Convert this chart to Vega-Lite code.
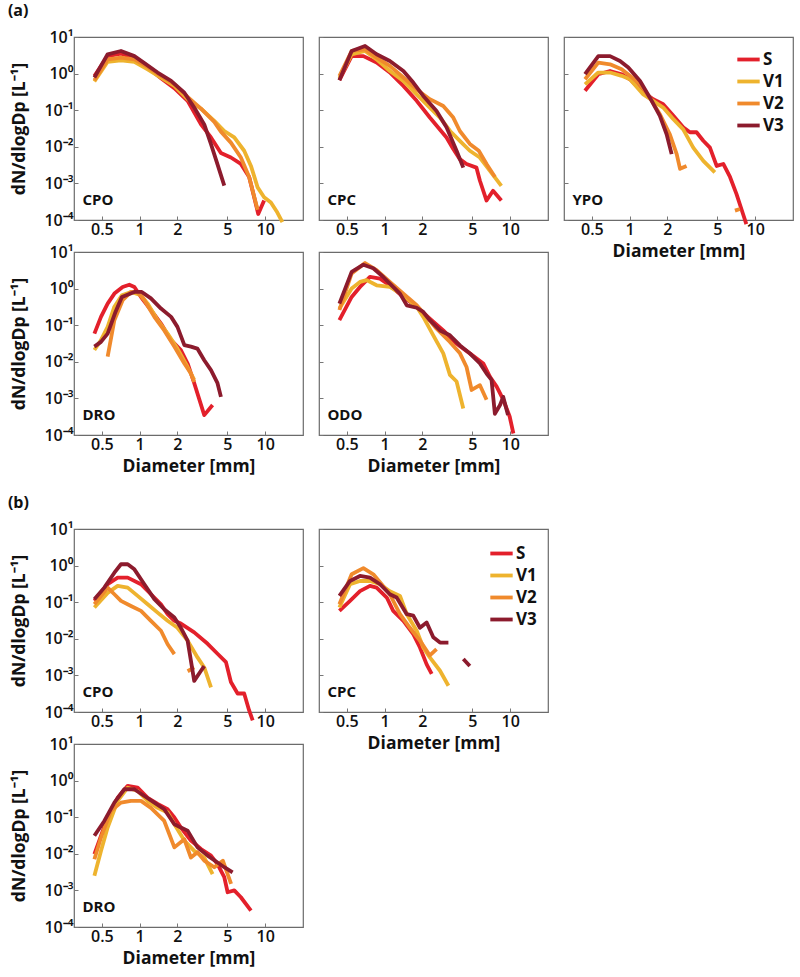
{
"$schema": "https://vega.github.io/schema/vega-lite/v6.json",
"padding": {"left": 7, "top": 2, "right": 2, "bottom": 2},
"config": {
 "font": "Open Sans",
 "view": {"stroke": "#6b6b6b", "strokeWidth": 1.2},
 "axis": {"labelFont": "Open Sans", "labelFontSize": 16, "labelFontWeight": 600, "labelColor": "#111", "titleFont": "Open Sans", "titleFontSize": 17.5, "titleFontWeight": "bold", "titleColor": "#111", "domain": false, "grid": false, "tickColor": "#777", "tickSize": -4, "tickWidth": 1},
 "axisX": {"labelPadding": 5, "titlePadding": 5},
 "axisY": {"labelPadding": 5, "titlePadding": 15},
 "title": {"font": "Open Sans", "fontSize": 16, "fontWeight": "bold", "color": "#111", "anchor": "start", "frame": "bounds", "offset": 10, "dx": -3},
 "line": {"strokeWidth": 3.8, "clip": true, "strokeJoin": "round"},
 "text": {"font": "Open Sans", "fontSize": 15, "fontWeight": "bold", "color": "#111", "align": "left", "baseline": "middle"}
},
"datasets": {"all": [
{"p":"aCPO","s":"S","g":1,"d":0.436,"v":0.86},{"p":"aCPO","s":"S","g":1,"d":0.556,"v":3.0},{"p":"aCPO","s":"S","g":1,"d":0.71,"v":3.5},{"p":"aCPO","s":"S","g":1,"d":0.908,"v":2.73},{"p":"aCPO","s":"S","g":1,"d":1.158,"v":1.46},{"p":"aCPO","s":"S","g":1,"d":1.479,"v":0.75},{"p":"aCPO","s":"S","g":1,"d":1.888,"v":0.40},{"p":"aCPO","s":"S","g":1,"d":2.41,"v":0.18},{"p":"aCPO","s":"S","g":1,"d":3.08,"v":0.041},{"p":"aCPO","s":"S","g":1,"d":3.70,"v":0.018},{"p":"aCPO","s":"S","g":1,"d":4.44,"v":0.0068},{"p":"aCPO","s":"S","g":1,"d":5.33,"v":0.0051},{"p":"aCPO","s":"S","g":1,"d":6.40,"v":0.0034},{"p":"aCPO","s":"S","g":1,"d":7.45,"v":0.0015},{"p":"aCPO","s":"S","g":1,"d":8.17,"v":0.00042},{"p":"aCPO","s":"S","g":1,"d":8.8,"v":0.000146},{"p":"aCPO","s":"S","g":1,"d":9.8,"v":0.00034},
{"p":"aCPO","s":"V1","g":1,"d":0.436,"v":0.61},{"p":"aCPO","s":"V1","g":1,"d":0.556,"v":2.1},{"p":"aCPO","s":"V1","g":1,"d":0.71,"v":2.3},{"p":"aCPO","s":"V1","g":1,"d":0.908,"v":2.1},{"p":"aCPO","s":"V1","g":1,"d":1.158,"v":1.3},{"p":"aCPO","s":"V1","g":1,"d":1.479,"v":0.78},{"p":"aCPO","s":"V1","g":1,"d":1.888,"v":0.46},{"p":"aCPO","s":"V1","g":1,"d":2.41,"v":0.20},{"p":"aCPO","s":"V1","g":1,"d":3.08,"v":0.11},{"p":"aCPO","s":"V1","g":1,"d":3.93,"v":0.051},{"p":"aCPO","s":"V1","g":1,"d":4.72,"v":0.027},{"p":"aCPO","s":"V1","g":1,"d":5.67,"v":0.018},{"p":"aCPO","s":"V1","g":1,"d":6.8,"v":0.0078},{"p":"aCPO","s":"V1","g":1,"d":7.7,"v":0.003},{"p":"aCPO","s":"V1","g":1,"d":8.7,"v":0.00078},{"p":"aCPO","s":"V1","g":1,"d":9.8,"v":0.00042},{"p":"aCPO","s":"V1","g":1,"d":11.1,"v":0.0003},{"p":"aCPO","s":"V1","g":1,"d":12.5,"v":0.00016},{"p":"aCPO","s":"V1","g":1,"d":13.7,"v":0.000088},
{"p":"aCPO","s":"V2","g":1,"d":0.436,"v":0.66},{"p":"aCPO","s":"V2","g":1,"d":0.556,"v":2.45},{"p":"aCPO","s":"V2","g":1,"d":0.71,"v":2.73},{"p":"aCPO","s":"V2","g":1,"d":0.908,"v":2.45},{"p":"aCPO","s":"V2","g":1,"d":1.158,"v":1.52},{"p":"aCPO","s":"V2","g":1,"d":1.479,"v":0.86},{"p":"aCPO","s":"V2","g":1,"d":1.888,"v":0.51},{"p":"aCPO","s":"V2","g":1,"d":2.41,"v":0.23},{"p":"aCPO","s":"V2","g":1,"d":3.08,"v":0.11},{"p":"aCPO","s":"V2","g":1,"d":3.93,"v":0.048},{"p":"aCPO","s":"V2","g":1,"d":4.44,"v":0.026},{"p":"aCPO","s":"V2","g":1,"d":5.33,"v":0.013},{"p":"aCPO","s":"V2","g":1,"d":6.40,"v":0.0051},{"p":"aCPO","s":"V2","g":1,"d":7.45,"v":0.0015},{"p":"aCPO","s":"V2","g":1,"d":8.7,"v":0.00019},
{"p":"aCPO","s":"V3","g":1,"d":0.436,"v":0.78},{"p":"aCPO","s":"V3","g":1,"d":0.556,"v":3.37},{"p":"aCPO","s":"V3","g":1,"d":0.71,"v":4.15},{"p":"aCPO","s":"V3","g":1,"d":0.908,"v":3.0},{"p":"aCPO","s":"V3","g":1,"d":1.09,"v":1.94},{"p":"aCPO","s":"V3","g":1,"d":1.39,"v":1.07},{"p":"aCPO","s":"V3","g":1,"d":1.78,"v":0.63},{"p":"aCPO","s":"V3","g":1,"d":2.27,"v":0.30},{"p":"aCPO","s":"V3","g":1,"d":2.72,"v":0.118},{"p":"aCPO","s":"V3","g":1,"d":3.27,"v":0.041},{"p":"aCPO","s":"V3","g":1,"d":3.70,"v":0.0118},{"p":"aCPO","s":"V3","g":1,"d":4.17,"v":0.0033},{"p":"aCPO","s":"V3","g":1,"d":4.72,"v":0.00087},

{"p":"aCPC","s":"S","g":1,"d":0.436,"v":0.66},{"p":"aCPC","s":"S","g":1,"d":0.546,"v":3.0},{"p":"aCPC","s":"S","g":1,"d":0.677,"v":3.0},{"p":"aCPC","s":"S","g":1,"d":0.863,"v":2.0},{"p":"aCPC","s":"S","g":1,"d":1.10,"v":1.07},{"p":"aCPC","s":"S","g":1,"d":1.41,"v":0.46},{"p":"aCPC","s":"S","g":1,"d":1.80,"v":0.18},{"p":"aCPC","s":"S","g":1,"d":2.29,"v":0.063},{"p":"aCPC","s":"S","g":1,"d":3.11,"v":0.018},{"p":"aCPC","s":"S","g":1,"d":3.52,"v":0.0087},{"p":"aCPC","s":"S","g":1,"d":3.97,"v":0.0046},{"p":"aCPC","s":"S","g":1,"d":4.49,"v":0.0034},{"p":"aCPC","s":"S","g":1,"d":5.38,"v":0.0027},{"p":"aCPC","s":"S","g":1,"d":5.73,"v":0.0012},{"p":"aCPC","s":"S","g":1,"d":6.48,"v":0.00034},{"p":"aCPC","s":"S","g":1,"d":7.3,"v":0.00063},{"p":"aCPC","s":"S","g":1,"d":8.5,"v":0.00034},
{"p":"aCPC","s":"V1","g":1,"d":0.436,"v":0.75},{"p":"aCPC","s":"V1","g":1,"d":0.546,"v":3.37},{"p":"aCPC","s":"V1","g":1,"d":0.698,"v":4.15},{"p":"aCPC","s":"V1","g":1,"d":0.863,"v":2.45},{"p":"aCPC","s":"V1","g":1,"d":1.10,"v":1.18},{"p":"aCPC","s":"V1","g":1,"d":1.41,"v":0.63},{"p":"aCPC","s":"V1","g":1,"d":1.80,"v":0.27},{"p":"aCPC","s":"V1","g":1,"d":2.29,"v":0.118},{"p":"aCPC","s":"V1","g":1,"d":2.76,"v":0.063},{"p":"aCPC","s":"V1","g":1,"d":3.32,"v":0.027},{"p":"aCPC","s":"V1","g":1,"d":3.97,"v":0.0146},{"p":"aCPC","s":"V1","g":1,"d":4.77,"v":0.0078},{"p":"aCPC","s":"V1","g":1,"d":5.73,"v":0.0051},{"p":"aCPC","s":"V1","g":1,"d":6.9,"v":0.0022},{"p":"aCPC","s":"V1","g":1,"d":8.5,"v":0.00086},
{"p":"aCPC","s":"V2","g":1,"d":0.436,"v":0.86},{"p":"aCPC","s":"V2","g":1,"d":0.546,"v":4.15},{"p":"aCPC","s":"V2","g":1,"d":0.698,"v":4.6},{"p":"aCPC","s":"V2","g":1,"d":0.863,"v":2.73},{"p":"aCPC","s":"V2","g":1,"d":1.10,"v":1.62},{"p":"aCPC","s":"V2","g":1,"d":1.41,"v":0.78},{"p":"aCPC","s":"V2","g":1,"d":1.80,"v":0.37},{"p":"aCPC","s":"V2","g":1,"d":2.29,"v":0.2},{"p":"aCPC","s":"V2","g":1,"d":2.93,"v":0.13},{"p":"aCPC","s":"V2","g":1,"d":3.52,"v":0.063},{"p":"aCPC","s":"V2","g":1,"d":3.97,"v":0.027},{"p":"aCPC","s":"V2","g":1,"d":4.77,"v":0.012},{"p":"aCPC","s":"V2","g":1,"d":5.62,"v":0.0078},{"p":"aCPC","s":"V2","g":1,"d":6.48,"v":0.0034},{"p":"aCPC","s":"V2","g":1,"d":7.56,"v":0.0015},
{"p":"aCPC","s":"V3","g":1,"d":0.436,"v":0.66},{"p":"aCPC","s":"V3","g":1,"d":0.546,"v":4.15},{"p":"aCPC","s":"V3","g":1,"d":0.698,"v":5.7},{"p":"aCPC","s":"V3","g":1,"d":0.863,"v":3.37},{"p":"aCPC","s":"V3","g":1,"d":1.10,"v":2.21},{"p":"aCPC","s":"V3","g":1,"d":1.41,"v":1.18},{"p":"aCPC","s":"V3","g":1,"d":1.69,"v":0.57},{"p":"aCPC","s":"V3","g":1,"d":2.03,"v":0.245},{"p":"aCPC","s":"V3","g":1,"d":2.59,"v":0.095},{"p":"aCPC","s":"V3","g":1,"d":3.11,"v":0.034},{"p":"aCPC","s":"V3","g":1,"d":3.74,"v":0.0078},{"p":"aCPC","s":"V3","g":1,"d":4.23,"v":0.0027},

{"p":"aYPO","s":"S","g":1,"d":0.441,"v":0.34},{"p":"aYPO","s":"S","g":1,"d":0.563,"v":0.96},{"p":"aYPO","s":"S","g":1,"d":0.698,"v":1.18},{"p":"aYPO","s":"S","g":1,"d":0.863,"v":0.96},{"p":"aYPO","s":"S","g":1,"d":1.006,"v":0.7},{"p":"aYPO","s":"S","g":1,"d":1.21,"v":0.37},{"p":"aYPO","s":"S","g":1,"d":1.54,"v":0.2},{"p":"aYPO","s":"S","g":1,"d":1.85,"v":0.145},{"p":"aYPO","s":"S","g":1,"d":2.23,"v":0.07},{"p":"aYPO","s":"S","g":1,"d":2.67,"v":0.034},{"p":"aYPO","s":"S","g":1,"d":3.02,"v":0.025},{"p":"aYPO","s":"S","g":1,"d":3.41,"v":0.025},{"p":"aYPO","s":"S","g":1,"d":3.86,"v":0.0146},{"p":"aYPO","s":"S","g":1,"d":4.36,"v":0.0095},{"p":"aYPO","s":"S","g":1,"d":4.93,"v":0.003},{"p":"aYPO","s":"S","g":1,"d":5.57,"v":0.0034},{"p":"aYPO","s":"S","g":1,"d":6.3,"v":0.0015},{"p":"aYPO","s":"S","g":1,"d":7.1,"v":0.00051},{"p":"aYPO","s":"S","g":1,"d":8.0,"v":0.000146},{"p":"aYPO","s":"S","g":1,"d":8.5,"v":0.000077},
{"p":"aYPO","s":"V1","g":1,"d":0.441,"v":0.51},{"p":"aYPO","s":"V1","g":1,"d":0.563,"v":1.07},{"p":"aYPO","s":"V1","g":1,"d":0.698,"v":1.07},{"p":"aYPO","s":"V1","g":1,"d":0.863,"v":0.87},{"p":"aYPO","s":"V1","g":1,"d":1.006,"v":0.7},{"p":"aYPO","s":"V1","g":1,"d":1.285,"v":0.27},{"p":"aYPO","s":"V1","g":1,"d":1.54,"v":0.18},{"p":"aYPO","s":"V1","g":1,"d":1.85,"v":0.118},{"p":"aYPO","s":"V1","g":1,"d":2.23,"v":0.057},{"p":"aYPO","s":"V1","g":1,"d":2.67,"v":0.03},{"p":"aYPO","s":"V1","g":1,"d":3.21,"v":0.0095},{"p":"aYPO","s":"V1","g":1,"d":3.86,"v":0.0041},{"p":"aYPO","s":"V1","g":1,"d":4.77,"v":0.002},
{"p":"aYPO","s":"V2","g":1,"d":0.441,"v":0.7},{"p":"aYPO","s":"V2","g":1,"d":0.563,"v":2.0},{"p":"aYPO","s":"V2","g":1,"d":0.698,"v":1.8},{"p":"aYPO","s":"V2","g":1,"d":0.863,"v":1.31},{"p":"aYPO","s":"V2","g":1,"d":1.006,"v":0.87},{"p":"aYPO","s":"V2","g":1,"d":1.21,"v":0.51},{"p":"aYPO","s":"V2","g":1,"d":1.45,"v":0.22},{"p":"aYPO","s":"V2","g":1,"d":1.74,"v":0.078},{"p":"aYPO","s":"V2","g":1,"d":2.09,"v":0.022},{"p":"aYPO","s":"V2","g":1,"d":2.37,"v":0.0063},{"p":"aYPO","s":"V2","g":1,"d":2.52,"v":0.0025},{"p":"aYPO","s":"V2","g":1,"d":2.84,"v":0.003},
{"p":"aYPO","s":"V2","g":2,"d":6.9,"v":0.00018},{"p":"aYPO","s":"V2","g":2,"d":7.56,"v":0.0002},
{"p":"aYPO","s":"V3","g":1,"d":0.441,"v":0.96},{"p":"aYPO","s":"V3","g":1,"d":0.563,"v":3.0},{"p":"aYPO","s":"V3","g":1,"d":0.698,"v":3.0},{"p":"aYPO","s":"V3","g":1,"d":0.838,"v":2.21},{"p":"aYPO","s":"V3","g":1,"d":0.976,"v":1.46},{"p":"aYPO","s":"V3","g":1,"d":1.21,"v":0.63},{"p":"aYPO","s":"V3","g":1,"d":1.45,"v":0.22},{"p":"aYPO","s":"V3","g":1,"d":1.74,"v":0.07},{"p":"aYPO","s":"V3","g":1,"d":1.97,"v":0.022},{"p":"aYPO","s":"V3","g":1,"d":2.16,"v":0.0063},

{"p":"aDRO","s":"S","g":1,"d":0.436,"v":0.059},{"p":"aDRO","s":"S","g":1,"d":0.492,"v":0.169},{"p":"aDRO","s":"S","g":1,"d":0.556,"v":0.39},{"p":"aDRO","s":"S","g":1,"d":0.629,"v":0.73},{"p":"aDRO","s":"S","g":1,"d":0.732,"v":1.11},{"p":"aDRO","s":"S","g":1,"d":0.827,"v":1.28},{"p":"aDRO","s":"S","g":1,"d":0.908,"v":1.11},{"p":"aDRO","s":"S","g":1,"d":1.025,"v":0.59},{"p":"aDRO","s":"S","g":1,"d":1.23,"v":0.26},{"p":"aDRO","s":"S","g":1,"d":1.479,"v":0.111},{"p":"aDRO","s":"S","g":1,"d":1.78,"v":0.039},{"p":"aDRO","s":"S","g":1,"d":2.13,"v":0.021},{"p":"aDRO","s":"S","g":1,"d":2.41,"v":0.009},{"p":"aDRO","s":"S","g":1,"d":2.72,"v":0.0026},{"p":"aDRO","s":"S","g":1,"d":3.27,"v":0.00035},{"p":"aDRO","s":"S","g":1,"d":3.81,"v":0.00066},
{"p":"aDRO","s":"V1","g":1,"d":0.436,"v":0.021},{"p":"aDRO","s":"V1","g":1,"d":0.492,"v":0.039},{"p":"aDRO","s":"V1","g":1,"d":0.556,"v":0.09},{"p":"aDRO","s":"V1","g":1,"d":0.629,"v":0.32},{"p":"aDRO","s":"V1","g":1,"d":0.722,"v":0.66},{"p":"aDRO","s":"V1","g":1,"d":0.855,"v":0.81},{"p":"aDRO","s":"V1","g":1,"d":1.025,"v":0.66},{"p":"aDRO","s":"V1","g":1,"d":1.158,"v":0.39},{"p":"aDRO","s":"V1","g":1,"d":1.39,"v":0.137},{"p":"aDRO","s":"V1","g":1,"d":1.67,"v":0.059},{"p":"aDRO","s":"V1","g":1,"d":2.0,"v":0.023},{"p":"aDRO","s":"V1","g":1,"d":2.41,"v":0.0072},{"p":"aDRO","s":"V1","g":1,"d":2.72,"v":0.0032},
{"p":"aDRO","s":"V2","g":1,"d":0.556,"v":0.0138},{"p":"aDRO","s":"V2","g":1,"d":0.629,"v":0.137},{"p":"aDRO","s":"V2","g":1,"d":0.732,"v":0.48},{"p":"aDRO","s":"V2","g":1,"d":0.853,"v":0.81},{"p":"aDRO","s":"V2","g":1,"d":0.964,"v":0.81},{"p":"aDRO","s":"V2","g":1,"d":1.09,"v":0.48},{"p":"aDRO","s":"V2","g":1,"d":1.309,"v":0.169},{"p":"aDRO","s":"V2","g":1,"d":1.57,"v":0.072},{"p":"aDRO","s":"V2","g":1,"d":1.888,"v":0.026},{"p":"aDRO","s":"V2","g":1,"d":2.27,"v":0.009},{"p":"aDRO","s":"V2","g":1,"d":2.56,"v":0.0048},{"p":"aDRO","s":"V2","g":1,"d":2.72,"v":0.0028},
{"p":"aDRO","s":"V3","g":1,"d":0.436,"v":0.026},{"p":"aDRO","s":"V3","g":1,"d":0.492,"v":0.035},{"p":"aDRO","s":"V3","g":1,"d":0.556,"v":0.059},{"p":"aDRO","s":"V3","g":1,"d":0.642,"v":0.23},{"p":"aDRO","s":"V3","g":1,"d":0.722,"v":0.59},{"p":"aDRO","s":"V3","g":1,"d":0.908,"v":0.81},{"p":"aDRO","s":"V3","g":1,"d":1.04,"v":0.81},{"p":"aDRO","s":"V3","g":1,"d":1.23,"v":0.54},{"p":"aDRO","s":"V3","g":1,"d":1.479,"v":0.285},{"p":"aDRO","s":"V3","g":1,"d":1.78,"v":0.169},{"p":"aDRO","s":"V3","g":1,"d":2.0,"v":0.09},{"p":"aDRO","s":"V3","g":1,"d":2.27,"v":0.0285},{"p":"aDRO","s":"V3","g":1,"d":2.56,"v":0.026},{"p":"aDRO","s":"V3","g":1,"d":2.88,"v":0.023},{"p":"aDRO","s":"V3","g":1,"d":3.27,"v":0.011},{"p":"aDRO","s":"V3","g":1,"d":3.70,"v":0.0059},{"p":"aDRO","s":"V3","g":1,"d":4.17,"v":0.0026},{"p":"aDRO","s":"V3","g":1,"d":4.44,"v":0.0011},

{"p":"aODO","s":"S","g":1,"d":0.436,"v":0.137},{"p":"aODO","s":"S","g":1,"d":0.546,"v":0.59},{"p":"aODO","s":"S","g":1,"d":0.636,"v":1.11},{"p":"aODO","s":"S","g":1,"d":0.764,"v":2.08},{"p":"aODO","s":"S","g":1,"d":0.918,"v":1.87},{"p":"aODO","s":"S","g":1,"d":1.10,"v":1.23},{"p":"aODO","s":"S","g":1,"d":1.41,"v":0.59},{"p":"aODO","s":"S","g":1,"d":1.80,"v":0.32},{"p":"aODO","s":"S","g":1,"d":2.29,"v":0.152},{"p":"aODO","s":"S","g":1,"d":2.93,"v":0.072},{"p":"aODO","s":"S","g":1,"d":3.74,"v":0.031},{"p":"aODO","s":"S","g":1,"d":4.77,"v":0.017},{"p":"aODO","s":"S","g":1,"d":6.1,"v":0.009},{"p":"aODO","s":"S","g":1,"d":6.9,"v":0.0039},{"p":"aODO","s":"S","g":1,"d":7.8,"v":0.0021},{"p":"aODO","s":"S","g":1,"d":8.8,"v":0.00092},{"p":"aODO","s":"S","g":1,"d":9.9,"v":0.00032},{"p":"aODO","s":"S","g":1,"d":10.6,"v":0.00011},
{"p":"aODO","s":"V1","g":1,"d":0.436,"v":0.285},{"p":"aODO","s":"V1","g":1,"d":0.546,"v":1.0},{"p":"aODO","s":"V1","g":1,"d":0.636,"v":1.52},{"p":"aODO","s":"V1","g":1,"d":0.719,"v":1.7},{"p":"aODO","s":"V1","g":1,"d":0.863,"v":1.23},{"p":"aODO","s":"V1","g":1,"d":1.10,"v":1.11},{"p":"aODO","s":"V1","g":1,"d":1.41,"v":0.66},{"p":"aODO","s":"V1","g":1,"d":1.80,"v":0.32},{"p":"aODO","s":"V1","g":1,"d":2.03,"v":0.169},{"p":"aODO","s":"V1","g":1,"d":2.44,"v":0.053},{"p":"aODO","s":"V1","g":1,"d":2.93,"v":0.017},{"p":"aODO","s":"V1","g":1,"d":3.31,"v":0.0044},{"p":"aODO","s":"V1","g":1,"d":3.74,"v":0.0029},{"p":"aODO","s":"V1","g":1,"d":4.23,"v":0.00053},
{"p":"aODO","s":"V2","g":1,"d":0.436,"v":0.26},{"p":"aODO","s":"V2","g":1,"d":0.546,"v":2.6},{"p":"aODO","s":"V2","g":1,"d":0.698,"v":5.0},{"p":"aODO","s":"V2","g":1,"d":0.863,"v":3.2},{"p":"aODO","s":"V2","g":1,"d":1.10,"v":1.52},{"p":"aODO","s":"V2","g":1,"d":1.41,"v":0.73},{"p":"aODO","s":"V2","g":1,"d":1.80,"v":0.35},{"p":"aODO","s":"V2","g":1,"d":2.16,"v":0.169},{"p":"aODO","s":"V2","g":1,"d":2.59,"v":0.08},{"p":"aODO","s":"V2","g":1,"d":3.31,"v":0.035},{"p":"aODO","s":"V2","g":1,"d":3.98,"v":0.017},{"p":"aODO","s":"V2","g":1,"d":4.49,"v":0.0072},{"p":"aODO","s":"V2","g":1,"d":4.93,"v":0.0017},{"p":"aODO","s":"V2","g":1,"d":5.74,"v":0.0023},{"p":"aODO","s":"V2","g":1,"d":6.48,"v":0.00092},
{"p":"aODO","s":"V3","g":1,"d":0.436,"v":0.39},{"p":"aODO","s":"V3","g":1,"d":0.546,"v":2.87},{"p":"aODO","s":"V3","g":1,"d":0.677,"v":4.5},{"p":"aODO","s":"V3","g":1,"d":0.812,"v":3.6},{"p":"aODO","s":"V3","g":1,"d":0.976,"v":2.08},{"p":"aODO","s":"V3","g":1,"d":1.10,"v":1.37},{"p":"aODO","s":"V3","g":1,"d":1.325,"v":0.73},{"p":"aODO","s":"V3","g":1,"d":1.50,"v":0.35},{"p":"aODO","s":"V3","g":1,"d":1.80,"v":0.30},{"p":"aODO","s":"V3","g":1,"d":2.03,"v":0.23},{"p":"aODO","s":"V3","g":1,"d":2.29,"v":0.137},{"p":"aODO","s":"V3","g":1,"d":2.76,"v":0.072},{"p":"aODO","s":"V3","g":1,"d":3.31,"v":0.053},{"p":"aODO","s":"V3","g":1,"d":3.98,"v":0.028},{"p":"aODO","s":"V3","g":1,"d":4.77,"v":0.017},{"p":"aODO","s":"V3","g":1,"d":5.74,"v":0.009},{"p":"aODO","s":"V3","g":1,"d":6.48,"v":0.0048},{"p":"aODO","s":"V3","g":1,"d":7.1,"v":0.0032},{"p":"aODO","s":"V3","g":1,"d":7.55,"v":0.00038},{"p":"aODO","s":"V3","g":1,"d":8.3,"v":0.00066},{"p":"aODO","s":"V3","g":1,"d":8.8,"v":0.0011},{"p":"aODO","s":"V3","g":1,"d":9.6,"v":0.00035},

{"p":"bCPO","s":"S","g":1,"d":0.436,"v":0.109},{"p":"bCPO","s":"S","g":1,"d":0.556,"v":0.31},{"p":"bCPO","s":"S","g":1,"d":0.668,"v":0.47},{"p":"bCPO","s":"S","g":1,"d":0.803,"v":0.47},{"p":"bCPO","s":"S","g":1,"d":1.025,"v":0.31},{"p":"bCPO","s":"S","g":1,"d":1.23,"v":0.165},{"p":"bCPO","s":"S","g":1,"d":1.479,"v":0.088},{"p":"bCPO","s":"S","g":1,"d":1.67,"v":0.047},{"p":"bCPO","s":"S","g":1,"d":1.89,"v":0.031},{"p":"bCPO","s":"S","g":1,"d":2.13,"v":0.026},{"p":"bCPO","s":"S","g":1,"d":2.72,"v":0.015},{"p":"bCPO","s":"S","g":1,"d":3.48,"v":0.0073},{"p":"bCPO","s":"S","g":1,"d":4.17,"v":0.0039},{"p":"bCPO","s":"S","g":1,"d":4.87,"v":0.0023},{"p":"bCPO","s":"S","g":1,"d":5.33,"v":0.00066},{"p":"bCPO","s":"S","g":1,"d":6.03,"v":0.00032},{"p":"bCPO","s":"S","g":1,"d":6.8,"v":0.00032},{"p":"bCPO","s":"S","g":1,"d":7.45,"v":0.00011},{"p":"bCPO","s":"S","g":1,"d":7.95,"v":0.000059},
{"p":"bCPO","s":"V1","g":1,"d":0.436,"v":0.072},{"p":"bCPO","s":"V1","g":1,"d":0.556,"v":0.18},{"p":"bCPO","s":"V1","g":1,"d":0.668,"v":0.28},{"p":"bCPO","s":"V1","g":1,"d":0.803,"v":0.25},{"p":"bCPO","s":"V1","g":1,"d":0.964,"v":0.149},{"p":"bCPO","s":"V1","g":1,"d":1.158,"v":0.088},{"p":"bCPO","s":"V1","g":1,"d":1.39,"v":0.052},{"p":"bCPO","s":"V1","g":1,"d":1.67,"v":0.031},{"p":"bCPO","s":"V1","g":1,"d":2.0,"v":0.02},{"p":"bCPO","s":"V1","g":1,"d":2.41,"v":0.0089},{"p":"bCPO","s":"V1","g":1,"d":2.89,"v":0.0031},{"p":"bCPO","s":"V1","g":1,"d":3.27,"v":0.00165},{"p":"bCPO","s":"V1","g":1,"d":3.70,"v":0.00047},
{"p":"bCPO","s":"V2","g":1,"d":0.436,"v":0.088},{"p":"bCPO","s":"V2","g":1,"d":0.556,"v":0.25},{"p":"bCPO","s":"V2","g":1,"d":0.629,"v":0.165},{"p":"bCPO","s":"V2","g":1,"d":0.71,"v":0.109},{"p":"bCPO","s":"V2","g":1,"d":0.853,"v":0.079},{"p":"bCPO","s":"V2","g":1,"d":1.025,"v":0.058},{"p":"bCPO","s":"V2","g":1,"d":1.23,"v":0.031},{"p":"bCPO","s":"V2","g":1,"d":1.479,"v":0.0166},{"p":"bCPO","s":"V2","g":1,"d":1.67,"v":0.0071},{"p":"bCPO","s":"V2","g":1,"d":1.89,"v":0.0038},
{"p":"bCPO","s":"V2","g":2,"d":2.41,"v":0.0013},{"p":"bCPO","s":"V2","g":2,"d":2.72,"v":0.00165},
{"p":"bCPO","s":"V3","g":1,"d":0.436,"v":0.121},{"p":"bCPO","s":"V3","g":1,"d":0.523,"v":0.25},{"p":"bCPO","s":"V3","g":1,"d":0.629,"v":0.64},{"p":"bCPO","s":"V3","g":1,"d":0.71,"v":1.09},{"p":"bCPO","s":"V3","g":1,"d":0.803,"v":1.09},{"p":"bCPO","s":"V3","g":1,"d":0.908,"v":0.79},{"p":"bCPO","s":"V3","g":1,"d":1.09,"v":0.31},{"p":"bCPO","s":"V3","g":1,"d":1.31,"v":0.121},{"p":"bCPO","s":"V3","g":1,"d":1.57,"v":0.064},{"p":"bCPO","s":"V3","g":1,"d":1.89,"v":0.038},{"p":"bCPO","s":"V3","g":1,"d":2.13,"v":0.02},{"p":"bCPO","s":"V3","g":1,"d":2.41,"v":0.0089},{"p":"bCPO","s":"V3","g":1,"d":2.72,"v":0.00071},{"p":"bCPO","s":"V3","g":1,"d":3.08,"v":0.00134},{"p":"bCPO","s":"V3","g":1,"d":3.27,"v":0.0018},

{"p":"bCPC","s":"S","g":1,"d":0.436,"v":0.058},{"p":"bCPC","s":"S","g":1,"d":0.53,"v":0.109},{"p":"bCPC","s":"S","g":1,"d":0.636,"v":0.2},{"p":"bCPC","s":"S","g":1,"d":0.764,"v":0.28},{"p":"bCPC","s":"S","g":1,"d":0.863,"v":0.25},{"p":"bCPC","s":"S","g":1,"d":1.04,"v":0.134},{"p":"bCPC","s":"S","g":1,"d":1.17,"v":0.058},{"p":"bCPC","s":"S","g":1,"d":1.41,"v":0.031},{"p":"bCPC","s":"S","g":1,"d":1.69,"v":0.0135},{"p":"bCPC","s":"S","g":1,"d":1.91,"v":0.0058},{"p":"bCPC","s":"S","g":1,"d":2.16,"v":0.002},{"p":"bCPC","s":"S","g":1,"d":2.37,"v":0.0011},
{"p":"bCPC","s":"V1","g":1,"d":0.436,"v":0.072},{"p":"bCPC","s":"V1","g":1,"d":0.53,"v":0.31},{"p":"bCPC","s":"V1","g":1,"d":0.636,"v":0.38},{"p":"bCPC","s":"V1","g":1,"d":0.764,"v":0.38},{"p":"bCPC","s":"V1","g":1,"d":0.918,"v":0.31},{"p":"bCPC","s":"V1","g":1,"d":1.10,"v":0.2},{"p":"bCPC","s":"V1","g":1,"d":1.325,"v":0.149},{"p":"bCPC","s":"V1","g":1,"d":1.50,"v":0.047},{"p":"bCPC","s":"V1","g":1,"d":1.80,"v":0.0166},{"p":"bCPC","s":"V1","g":1,"d":2.03,"v":0.0058},{"p":"bCPC","s":"V1","g":1,"d":2.29,"v":0.0031},{"p":"bCPC","s":"V1","g":1,"d":2.76,"v":0.00134},{"p":"bCPC","s":"V1","g":1,"d":3.22,"v":0.00052},
{"p":"bCPC","s":"V2","g":1,"d":0.436,"v":0.088},{"p":"bCPC","s":"V2","g":1,"d":0.546,"v":0.58},{"p":"bCPC","s":"V2","g":1,"d":0.677,"v":0.85},{"p":"bCPC","s":"V2","g":1,"d":0.812,"v":0.58},{"p":"bCPC","s":"V2","g":1,"d":0.946,"v":0.31},{"p":"bCPC","s":"V2","g":1,"d":1.10,"v":0.165},{"p":"bCPC","s":"V2","g":1,"d":1.325,"v":0.047},{"p":"bCPC","s":"V2","g":1,"d":1.59,"v":0.02},{"p":"bCPC","s":"V2","g":1,"d":1.91,"v":0.0089},{"p":"bCPC","s":"V2","g":1,"d":2.29,"v":0.0035},{"p":"bCPC","s":"V2","g":1,"d":2.59,"v":0.0052},
{"p":"bCPC","s":"V3","g":1,"d":0.436,"v":0.149},{"p":"bCPC","s":"V3","g":1,"d":0.53,"v":0.38},{"p":"bCPC","s":"V3","g":1,"d":0.636,"v":0.52},{"p":"bCPC","s":"V3","g":1,"d":0.764,"v":0.47},{"p":"bCPC","s":"V3","g":1,"d":0.918,"v":0.31},{"p":"bCPC","s":"V3","g":1,"d":1.10,"v":0.165},{"p":"bCPC","s":"V3","g":1,"d":1.246,"v":0.134},{"p":"bCPC","s":"V3","g":1,"d":1.50,"v":0.047},{"p":"bCPC","s":"V3","g":1,"d":1.69,"v":0.043},{"p":"bCPC","s":"V3","g":1,"d":1.91,"v":0.02},{"p":"bCPC","s":"V3","g":1,"d":2.16,"v":0.028},{"p":"bCPC","s":"V3","g":1,"d":2.44,"v":0.011},{"p":"bCPC","s":"V3","g":1,"d":2.76,"v":0.0079},{"p":"bCPC","s":"V3","g":1,"d":3.22,"v":0.0079},
{"p":"bCPC","s":"V3","g":2,"d":4.23,"v":0.0028},{"p":"bCPC","s":"V3","g":2,"d":4.77,"v":0.0018},

{"p":"bDRO","s":"S","g":1,"d":0.436,"v":0.0098},{"p":"bDRO","s":"S","g":1,"d":0.492,"v":0.031},{"p":"bDRO","s":"S","g":1,"d":0.556,"v":0.098},{"p":"bDRO","s":"S","g":1,"d":0.668,"v":0.34},{"p":"bDRO","s":"S","g":1,"d":0.803,"v":0.72},{"p":"bDRO","s":"S","g":1,"d":0.964,"v":0.64},{"p":"bDRO","s":"S","g":1,"d":1.158,"v":0.34},{"p":"bDRO","s":"S","g":1,"d":1.39,"v":0.23},{"p":"bDRO","s":"S","g":1,"d":1.67,"v":0.165},{"p":"bDRO","s":"S","g":1,"d":1.89,"v":0.098},{"p":"bDRO","s":"S","g":1,"d":2.13,"v":0.052},{"p":"bDRO","s":"S","g":1,"d":2.56,"v":0.023},{"p":"bDRO","s":"S","g":1,"d":3.08,"v":0.0135},{"p":"bDRO","s":"S","g":1,"d":3.70,"v":0.0089},{"p":"bDRO","s":"S","g":1,"d":4.17,"v":0.0052},{"p":"bDRO","s":"S","g":1,"d":4.72,"v":0.0023},{"p":"bDRO","s":"S","g":1,"d":5.02,"v":0.00089},{"p":"bDRO","s":"S","g":1,"d":5.67,"v":0.001},{"p":"bDRO","s":"S","g":1,"d":6.40,"v":0.00065},{"p":"bDRO","s":"S","g":1,"d":7.7,"v":0.00028},
{"p":"bDRO","s":"V1","g":1,"d":0.436,"v":0.0025},{"p":"bDRO","s":"V1","g":1,"d":0.492,"v":0.012},{"p":"bDRO","s":"V1","g":1,"d":0.556,"v":0.052},{"p":"bDRO","s":"V1","g":1,"d":0.668,"v":0.28},{"p":"bDRO","s":"V1","g":1,"d":0.803,"v":0.64},{"p":"bDRO","s":"V1","g":1,"d":0.964,"v":0.52},{"p":"bDRO","s":"V1","g":1,"d":1.158,"v":0.28},{"p":"bDRO","s":"V1","g":1,"d":1.39,"v":0.18},{"p":"bDRO","s":"V1","g":1,"d":1.67,"v":0.134},{"p":"bDRO","s":"V1","g":1,"d":1.89,"v":0.064},{"p":"bDRO","s":"V1","g":1,"d":2.27,"v":0.023},{"p":"bDRO","s":"V1","g":1,"d":2.72,"v":0.012},{"p":"bDRO","s":"V1","g":1,"d":3.27,"v":0.0079},{"p":"bDRO","s":"V1","g":1,"d":3.81,"v":0.0028},
{"p":"bDRO","s":"V2","g":1,"d":0.436,"v":0.0071},{"p":"bDRO","s":"V2","g":1,"d":0.492,"v":0.028},{"p":"bDRO","s":"V2","g":1,"d":0.591,"v":0.149},{"p":"bDRO","s":"V2","g":1,"d":0.71,"v":0.25},{"p":"bDRO","s":"V2","g":1,"d":0.853,"v":0.28},{"p":"bDRO","s":"V2","g":1,"d":1.025,"v":0.28},{"p":"bDRO","s":"V2","g":1,"d":1.23,"v":0.18},{"p":"bDRO","s":"V2","g":1,"d":1.57,"v":0.079},{"p":"bDRO","s":"V2","g":1,"d":1.89,"v":0.015},{"p":"bDRO","s":"V2","g":1,"d":2.27,"v":0.025},{"p":"bDRO","s":"V2","g":1,"d":2.56,"v":0.0079},{"p":"bDRO","s":"V2","g":1,"d":2.89,"v":0.011},{"p":"bDRO","s":"V2","g":1,"d":3.27,"v":0.0065},{"p":"bDRO","s":"V2","g":1,"d":3.93,"v":0.0043},{"p":"bDRO","s":"V2","g":1,"d":4.6,"v":0.0065},{"p":"bDRO","s":"V2","g":1,"d":5.02,"v":0.0028},{"p":"bDRO","s":"V2","g":1,"d":5.35,"v":0.0015},
{"p":"bDRO","s":"V3","g":1,"d":0.436,"v":0.031},{"p":"bDRO","s":"V3","g":1,"d":0.523,"v":0.079},{"p":"bDRO","s":"V3","g":1,"d":0.629,"v":0.25},{"p":"bDRO","s":"V3","g":1,"d":0.755,"v":0.58},{"p":"bDRO","s":"V3","g":1,"d":0.908,"v":0.58},{"p":"bDRO","s":"V3","g":1,"d":1.09,"v":0.38},{"p":"bDRO","s":"V3","g":1,"d":1.31,"v":0.25},{"p":"bDRO","s":"V3","g":1,"d":1.57,"v":0.165},{"p":"bDRO","s":"V3","g":1,"d":1.89,"v":0.064},{"p":"bDRO","s":"V3","g":1,"d":2.13,"v":0.052},{"p":"bDRO","s":"V3","g":1,"d":2.41,"v":0.043},{"p":"bDRO","s":"V3","g":1,"d":2.89,"v":0.015},{"p":"bDRO","s":"V3","g":1,"d":3.48,"v":0.0089},{"p":"bDRO","s":"V3","g":1,"d":4.17,"v":0.0058},{"p":"bDRO","s":"V3","g":1,"d":4.72,"v":0.0043},{"p":"bDRO","s":"V3","g":1,"d":5.5,"v":0.0031}
]},
"columns": 3,
"align": "each",
"bounds": "flush",
"spacing": {"row": 32, "column": 16},
"resolve": {"scale": {"color": "independent", "x": "independent", "y": "independent"}, "legend": {"color": "independent"}},
"concat": [
 {"width": 229, "height": 183, "title": {"text": "(a)"},
  "layer": [
   {"data": {"name": "all"}, "transform": [{"filter": "datum.p === 'aCPO'"}], "mark": "line",
    "encoding": {
     "x": {"field": "d", "type": "quantitative", "scale": {"type": "log", "domain": [0.3, 20], "nice": false}, "axis": {"values": [0.5,1,2,5,10], "format": "~g", "title": null}},
     "y": {"field": "v", "type": "quantitative", "scale": {"type": "log", "domain": [0.0001, 10], "nice": false}, "axis": {"values": [0.0001,0.001,0.01,0.1,1,10], "labelExpr": "datum.value > 5 ? '10¹' : datum.value > 0.5 ? '10⁰' : datum.value > 0.05 ? '10⁻¹' : datum.value > 0.005 ? '10⁻²' : datum.value > 0.0005 ? '10⁻³' : '10⁻⁴'", "title": "dN/dlogDp [L⁻¹]"}},
     "color": {"field": "s", "type": "nominal", "scale": {"domain": ["S","V1","V2","V3"], "range": ["#e3202b","#eeb32e","#f08a2c","#8c1b2d"]}, "legend": null},
     "detail": {"field": "g"}}},
   {"data": {"values": [{"n": "CPO"}]}, "mark": "text", "encoding": {"x": {"datum": 0.35}, "y": {"datum": 0.00035}, "text": {"field": "n"}}}
  ]},
 {"width": 229, "height": 183,
  "layer": [
   {"data": {"name": "all"}, "transform": [{"filter": "datum.p === 'aCPC'"}], "mark": "line",
    "encoding": {
     "x": {"field": "d", "type": "quantitative", "scale": {"type": "log", "domain": [0.3, 20], "nice": false}, "axis": {"values": [0.5,1,2,5,10], "format": "~g", "title": null}},
     "y": {"field": "v", "type": "quantitative", "scale": {"type": "log", "domain": [0.0001, 10], "nice": false}, "axis": {"values": [0.0001,0.001,0.01,0.1,1,10], "labels": false, "title": null}},
     "color": {"field": "s", "type": "nominal", "scale": {"domain": ["S","V1","V2","V3"], "range": ["#e3202b","#eeb32e","#f08a2c","#8c1b2d"]}, "legend": null},
     "detail": {"field": "g"}}},
   {"data": {"values": [{"n": "CPC"}]}, "mark": "text", "encoding": {"x": {"datum": 0.35}, "y": {"datum": 0.00035}, "text": {"field": "n"}}}
  ]},
 {"width": 229, "height": 183,
  "layer": [
   {"data": {"name": "all"}, "transform": [{"filter": "datum.p === 'aYPO'"}], "mark": "line",
    "encoding": {
     "x": {"field": "d", "type": "quantitative", "scale": {"type": "log", "domain": [0.3, 20], "nice": false}, "axis": {"values": [0.5,1,2,5,10], "format": "~g", "title": "Diameter [mm]"}},
     "y": {"field": "v", "type": "quantitative", "scale": {"type": "log", "domain": [0.0001, 10], "nice": false}, "axis": {"values": [0.0001,0.001,0.01,0.1,1,10], "labels": false, "title": null}},
     "color": {"field": "s", "type": "nominal", "scale": {"domain": ["S","V1","V2","V3"], "range": ["#e3202b","#eeb32e","#f08a2c","#8c1b2d"]},
       "legend": {"orient": "top-right", "offset": 9, "title": null, "symbolType": "stroke", "symbolStrokeWidth": 4.5, "symbolSize": 500, "labelFont": "Open Sans", "labelFontSize": 17, "labelFontWeight": "bold", "labelColor": "#111", "rowPadding": -1, "labelOffset": 1, "padding": 0}},
     "detail": {"field": "g"}}},
   {"data": {"values": [{"n": "YPO"}]}, "mark": "text", "encoding": {"x": {"datum": 0.35}, "y": {"datum": 0.00035}, "text": {"field": "n"}}}
  ]},
 {"width": 229, "height": 183,
  "layer": [
   {"data": {"name": "all"}, "transform": [{"filter": "datum.p === 'aDRO'"}], "mark": "line",
    "encoding": {
     "x": {"field": "d", "type": "quantitative", "scale": {"type": "log", "domain": [0.3, 20], "nice": false}, "axis": {"values": [0.5,1,2,5,10], "format": "~g", "title": "Diameter [mm]"}},
     "y": {"field": "v", "type": "quantitative", "scale": {"type": "log", "domain": [0.0001, 10], "nice": false}, "axis": {"values": [0.0001,0.001,0.01,0.1,1,10], "labelExpr": "datum.value > 5 ? '10¹' : datum.value > 0.5 ? '10⁰' : datum.value > 0.05 ? '10⁻¹' : datum.value > 0.005 ? '10⁻²' : datum.value > 0.0005 ? '10⁻³' : '10⁻⁴'", "title": "dN/dlogDp [L⁻¹]"}},
     "color": {"field": "s", "type": "nominal", "scale": {"domain": ["S","V1","V2","V3"], "range": ["#e3202b","#eeb32e","#f08a2c","#8c1b2d"]}, "legend": null},
     "detail": {"field": "g"}}},
   {"data": {"values": [{"n": "DRO"}]}, "mark": "text", "encoding": {"x": {"datum": 0.35}, "y": {"datum": 0.00035}, "text": {"field": "n"}}}
  ]},
 {"width": 229, "height": 183,
  "layer": [
   {"data": {"name": "all"}, "transform": [{"filter": "datum.p === 'aODO'"}], "mark": "line",
    "encoding": {
     "x": {"field": "d", "type": "quantitative", "scale": {"type": "log", "domain": [0.3, 20], "nice": false}, "axis": {"values": [0.5,1,2,5,10], "format": "~g", "title": "Diameter [mm]"}},
     "y": {"field": "v", "type": "quantitative", "scale": {"type": "log", "domain": [0.0001, 10], "nice": false}, "axis": {"values": [0.0001,0.001,0.01,0.1,1,10], "labels": false, "title": null}},
     "color": {"field": "s", "type": "nominal", "scale": {"domain": ["S","V1","V2","V3"], "range": ["#e3202b","#eeb32e","#f08a2c","#8c1b2d"]}, "legend": null},
     "detail": {"field": "g"}}},
   {"data": {"values": [{"n": "ODO"}]}, "mark": "text", "encoding": {"x": {"datum": 0.35}, "y": {"datum": 0.00035}, "text": {"field": "n"}}}
  ]},
 {"width": 229, "height": 183, "view": {"stroke": null}, "data": {"values": []}, "mark": "point"},
 {"width": 229, "height": 30, "view": {"stroke": null}, "data": {"values": []}, "mark": "point"},
 {"width": 229, "height": 30, "view": {"stroke": null}, "data": {"values": []}, "mark": "point"},
 {"width": 229, "height": 30, "view": {"stroke": null}, "data": {"values": []}, "mark": "point"},
 {"width": 229, "height": 183, "title": {"text": "(b)"},
  "layer": [
   {"data": {"name": "all"}, "transform": [{"filter": "datum.p === 'bCPO'"}], "mark": "line",
    "encoding": {
     "x": {"field": "d", "type": "quantitative", "scale": {"type": "log", "domain": [0.3, 20], "nice": false}, "axis": {"values": [0.5,1,2,5,10], "format": "~g", "title": null}},
     "y": {"field": "v", "type": "quantitative", "scale": {"type": "log", "domain": [0.0001, 10], "nice": false}, "axis": {"values": [0.0001,0.001,0.01,0.1,1,10], "labelExpr": "datum.value > 5 ? '10¹' : datum.value > 0.5 ? '10⁰' : datum.value > 0.05 ? '10⁻¹' : datum.value > 0.005 ? '10⁻²' : datum.value > 0.0005 ? '10⁻³' : '10⁻⁴'", "title": "dN/dlogDp [L⁻¹]"}},
     "color": {"field": "s", "type": "nominal", "scale": {"domain": ["S","V1","V2","V3"], "range": ["#e3202b","#eeb32e","#f08a2c","#8c1b2d"]}, "legend": null},
     "detail": {"field": "g"}}},
   {"data": {"values": [{"n": "CPO"}]}, "mark": "text", "encoding": {"x": {"datum": 0.35}, "y": {"datum": 0.00035}, "text": {"field": "n"}}}
  ]},
 {"width": 229, "height": 183,
  "layer": [
   {"data": {"name": "all"}, "transform": [{"filter": "datum.p === 'bCPC'"}], "mark": "line",
    "encoding": {
     "x": {"field": "d", "type": "quantitative", "scale": {"type": "log", "domain": [0.3, 20], "nice": false}, "axis": {"values": [0.5,1,2,5,10], "format": "~g", "title": "Diameter [mm]"}},
     "y": {"field": "v", "type": "quantitative", "scale": {"type": "log", "domain": [0.0001, 10], "nice": false}, "axis": {"values": [0.0001,0.001,0.01,0.1,1,10], "labels": false, "title": null}},
     "color": {"field": "s", "type": "nominal", "scale": {"domain": ["S","V1","V2","V3"], "range": ["#e3202b","#eeb32e","#f08a2c","#8c1b2d"]},
       "legend": {"orient": "top-right", "offset": 11, "title": null, "symbolType": "stroke", "symbolStrokeWidth": 4.5, "symbolSize": 500, "labelFont": "Open Sans", "labelFontSize": 17, "labelFontWeight": "bold", "labelColor": "#111", "rowPadding": -1, "labelOffset": 1, "padding": 0}},
     "detail": {"field": "g"}}},
   {"data": {"values": [{"n": "CPC"}]}, "mark": "text", "encoding": {"x": {"datum": 0.35}, "y": {"datum": 0.00035}, "text": {"field": "n"}}}
  ]},
 {"width": 229, "height": 183, "view": {"stroke": null}, "data": {"values": []}, "mark": "point"},
 {"width": 229, "height": 183,
  "layer": [
   {"data": {"name": "all"}, "transform": [{"filter": "datum.p === 'bDRO'"}], "mark": "line",
    "encoding": {
     "x": {"field": "d", "type": "quantitative", "scale": {"type": "log", "domain": [0.3, 20], "nice": false}, "axis": {"values": [0.5,1,2,5,10], "format": "~g", "title": "Diameter [mm]"}},
     "y": {"field": "v", "type": "quantitative", "scale": {"type": "log", "domain": [0.0001, 10], "nice": false}, "axis": {"values": [0.0001,0.001,0.01,0.1,1,10], "labelExpr": "datum.value > 5 ? '10¹' : datum.value > 0.5 ? '10⁰' : datum.value > 0.05 ? '10⁻¹' : datum.value > 0.005 ? '10⁻²' : datum.value > 0.0005 ? '10⁻³' : '10⁻⁴'", "title": "dN/dlogDp [L⁻¹]"}},
     "color": {"field": "s", "type": "nominal", "scale": {"domain": ["S","V1","V2","V3"], "range": ["#e3202b","#eeb32e","#f08a2c","#8c1b2d"]}, "legend": null},
     "detail": {"field": "g"}}},
   {"data": {"values": [{"n": "DRO"}]}, "mark": "text", "encoding": {"x": {"datum": 0.35}, "y": {"datum": 0.00035}, "text": {"field": "n"}}}
  ]}
]
}
